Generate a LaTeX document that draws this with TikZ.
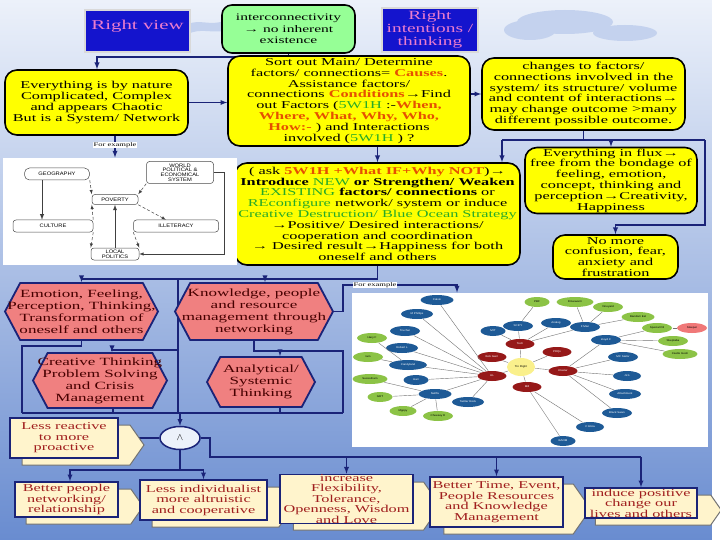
\documentclass[tikz,border=0pt]{standalone}
\usepackage{fontspec}
\setmainfont{Liberation Serif}[FakeStretch=1.55]
\setsansfont{Liberation Sans}[FakeStretch=1.15]
\usepackage{tikz}
\usetikzlibrary{shapes.geometric}
\usetikzlibrary{shapes.symbols}
\usetikzlibrary{backgrounds}
\usetikzlibrary{positioning}
\usetikzlibrary{calc}
\usetikzlibrary{arrows}
\definecolor{navy}{RGB}{26,35,120}
\definecolor{ylw}{RGB}{255,255,0}
\definecolor{salmon}{RGB}{240,128,128}
\definecolor{hexred}{RGB}{70,0,0}
\definecolor{cream}{RGB}{255,244,204}
\definecolor{cbrown}{RGB}{160,30,30}
\definecolor{tblue}{RGB}{20,20,205}
\definecolor{tpink}{RGB}{235,125,205}
\definecolor{lgreen}{RGB}{150,255,150}
\definecolor{hred}{RGB}{230,80,0}
\definecolor{hgreen}{RGB}{40,170,40}
\definecolor{nblue}{RGB}{30,90,150}
\definecolor{ngreen}{RGB}{140,195,70}
\definecolor{nred}{RGB}{150,25,25}
\definecolor{nyel}{RGB}{250,240,140}
\definecolor{npink}{RGB}{240,120,120}
\definecolor{bgtop}{RGB}{236,241,250}
\definecolor{bgmid}{RGB}{188,204,236}
\definecolor{bgbot}{RGB}{105,140,208}
\definecolor{cloud}{RGB}{196,210,238}
\newcommand{\kred}[1]{\textcolor{hred}{\textbf{#1}}}
\newcommand{\kgrn}[1]{\textcolor{hgreen}{#1}}
% cream box with its chevron shadow: name, x, y, width, height, text
\newcommand{\crbox}[6]{%
\node[cshad,minimum width=#4+14,minimum height=#5] at (#2+12,#3+7) {};
\node (#1) [cbox,minimum width=#4,minimum height=#5] at (#2,#3) {#6};}
\begin{document}
\begin{tikzpicture}[x=1pt,y=-1pt,line width=1pt,
ybox/.style={draw=black,line width=1.6pt,fill=ylw,rounded corners=12pt,align=center,inner sep=1pt,font=\fontsize{10.5}{10.8}\selectfont},
tbox/.style={draw=black!15,line width=1.2pt,fill=tblue,text=tpink,align=center,inner sep=0pt,font=\fontsize{13.5}{13}\selectfont},
grbox/.style={draw=black,line width=1.6pt,fill=lgreen,rounded corners=10pt,align=center,inner sep=1pt,font=\fontsize{10}{11.5}\selectfont},
hexa/.style={signal,signal to=east and west,signal pointer angle=124,draw=navy,line width=1.8pt,fill=salmon,text=hexred,align=center,inner xsep=-16pt,inner ysep=0pt,font=\fontsize{11}{12}\selectfont},
cbox/.style={rectangle,draw=navy,line width=1.6pt,fill=cream,text=cbrown,align=center,inner sep=0pt,font=\fontsize{10.5}{10.5}\selectfont},
cshad/.style={signal,signal to=east,signal pointer angle=110,draw=black!55,line width=1pt,fill=cream},
lk/.style={draw=navy,line width=1.3pt},
ar/.style={lk,-latex},
fe/.style={fill=white,inner sep=0.6pt,font=\fontsize{5.5}{6}\selectfont},
gnode/.style={draw=black!70,line width=0.5pt,rounded corners=3pt,align=center,inner sep=0.5pt,font=\sffamily\fontsize{5}{4.6}\selectfont},
gl/.style={draw=black!75,line width=0.5pt,-latex},
nb/.style={ellipse,fill=nblue,text=white,minimum height=10,inner sep=0pt,font=\sffamily\fontsize{2.6}{3}\selectfont},
ng/.style={nb,fill=ngreen,text=black},
nr/.style={nb,fill=nred,text=white},
nl/.style={draw=black!55,line width=0.4pt}]
\useasboundingbox (0,0) rectangle (720,540);
\begin{scope}[on background layer]
\shade[top color=bgtop,middle color=bgmid,bottom color=bgbot] (0,0) rectangle (712,540);
\fill[white] (712,0) rectangle (720,540);
\fill[cloud] (565,22) ellipse (48 and 12);
\fill[cloud] (625,33) ellipse (32 and 8);
\fill[cloud] (530,30) ellipse (26 and 10);
\fill[cloud] (188,24) .. controls (200,19) and (210,26) .. (224,21) -- (224,31) .. controls (210,33) and (200,28) .. (188,34) -- cycle;
\end{scope}

% top row
\node (rview) [tbox,minimum width=105,minimum height=42] at (137.5,31) {Right view\\ \mbox{}};
\node (inter) [grbox,minimum width=133,minimum height=48] at (288.5,29) {interconnectivity\\→ no inherent\\existence};
\node (rint) [tbox,minimum width=96,minimum height=44,font=\fontsize{12.5}{13}\selectfont] at (430,30) {Right\\intentions /\\thinking};

% yellow boxes
\node (nature) [ybox,minimum width=183,minimum height=65] at (96.5,102.5) {Everything is by nature\\Complicated, Complex\\and appears Chaotic\\But is a System/ Network};
\node (causes) [ybox,minimum width=242,minimum height=90] at (349,101) {Sort out Main/ Determine\\factors/ connections= \kred{Causes}.\\Assistance factors/\\connections \kred{Conditions}→Find\\out Factors (\kgrn{5W1H} :-\kred{When,}\\\kred{Where, What, Why, Who,}\\\kred{How:-} ) and Interactions\\involved (\kgrn{5W1H} ) ?};
\node (changes) [ybox,minimum width=203,minimum height=72] at (583.5,94) {changes to factors/\\connections involved in the\\system/ its structure/ volume\\and content of interactions→\\may change outcome >many\\different possible outcome.};
\node (ask) [ybox,minimum width=285,minimum height=102] at (377.5,214) {( ask \kred{5W1H +What IF+Why NOT})→\\\textbf{Introduce} \kgrn{NEW} \textbf{or Strengthen/ Weaken}\\\kgrn{EXISTING} \textbf{factors/ connections} or\\\kgrn{REconfigure} network/ system or induce\\\kgrn{Creative Destruction/ Blue Ocean Strategy}\\→Positive/ Desired interactions/\\cooperation and coordination\\→ Desired result→Happiness for both\\oneself and others};
\node (flux) [ybox,minimum width=172,minimum height=66] at (611,180.5) {Everything in flux→\\free from the bondage of\\feeling, emotion,\\concept, thinking and\\perception→Creativity,\\Happiness};
\node (calm) [ybox,minimum width=125,minimum height=44] at (615.5,257) {No more\\confusion, fear,\\anxiety and\\frustration};

% first example
\node (ex1) [fill=white,minimum width=234,minimum height=107,inner sep=0pt] at (120,211.5) {};
\node (geo) [gnode,minimum width=65,minimum height=12,rounded corners=5pt] at (57,174) {GEOGRAPHY};
\node (world) [gnode,minimum width=67,minimum height=22] at (180,172.5) {WORLD\\POLITICAL \&\\ECONOMICAL\\SYSTEM};
\node (pov) [gnode,minimum width=46,minimum height=10] at (115,199.5) {POVERTY};
\node (cult) [gnode,minimum width=80,minimum height=12] at (53,226) {CULTURE};
\node (illit) [gnode,minimum width=85,minimum height=12] at (176,226) {ILLETERACY};
\node (lpol) [gnode,minimum width=48,minimum height=12] at (115,254) {LOCAL\\POLITICS};
\draw[gl,line width=0.9pt] (geo.south -| 42,0) -- (cult.north -| 42,0);
\draw[gl,densely dashed] (geo.south east) -- (pov.north west);
\draw[gl,densely dashed] (world.south west) -- (pov.north east);
\draw[gl,densely dashed] (cult.north east) -- (pov.south west);
\draw[gl,densely dashed] (pov.south east) -- ($(illit.north)+(-10,0)$);
\draw[gl,densely dashed] (cult.south east) -- (lpol.north west);
\draw[gl,densely dashed] (illit.south west) -- (lpol.north east);
\draw[gl,line width=0.9pt] (lpol.north) -- (pov.south);
\draw[gl] (world.east) -- ++(10,0) |- (lpol.east);

% hexagons
\node (emo) [hexa,minimum width=153,minimum height=57] at (81.5,311.5) {Emotion, Feeling,\\Perception, Thinking,\\Transformation of\\oneself and others};
\node (know) [hexa,minimum width=158,minimum height=57] at (254,311.5) {Knowledge, people\\and resource\\management through\\networking};
\node (crea) [hexa,minimum width=134,minimum height=55] at (100,380.5) {Creative Thinking\\Problem Solving\\and Crisis\\Management};
\node (anal) [hexa,minimum width=108,minimum height=50] at (261,382) {Analytical/\\Systemic\\Thinking};

% second example
\node (net) [fill=white,minimum width=356,minimum height=154,inner sep=0pt] at (530,370) {};
\foreach \n/\x/\y/\w/\t in {calvin/437/300/33/Calvin,mphil/417/314/32/M Phillips,truch/405/331/30/Truchar,mit/493/331/25/MIT,scify/518/326/30/SCIFY,analog/556/323/30/Analog,fman/585/327/30/F Man,lloyd/606/340/30/Lloyd C,robl/402/348/32/Robert L,candy/408/365/38/Candyland,harr/416/380/25/Harr,netfl/435/394/33/Netflix,twit/468/402/32/Twitter Rock,mcs/623/357/30/MC Sailor,jls/627/376/28/JLS,attach/625/394/32/Attachment,bswan/617/413/30/Black Swan,celiza/590/427/28/C Eliza,baom/563/441/25/BAOM}
\node[nb,minimum width=\w] (\n) at (\x,\y) {\t};
\foreach \n/\x/\y/\w/\t in {pbf/537/302/25/PBF,drive/575/302/37/Driveworm,vine/608/307/30/Vineyard,reel/638/317/33/Random Eel,soil/657/328/30/Special Oil,skep/673/341/30/Skeptaba,castle/680/354/35/Castle Gosh,haryf/372/338/30/Hary F,iam/368/357/30/Iam,suss/370/379/35/Sussorham,grt/380/397/25/GRT,mppy/403/411/27/Mpppy,chees/438/416/30/Cheesey D}
\node[ng,minimum width=\w] (\n) at (\x,\y) {\t};
\node[ng,fill=npink,minimum width=30] (sleep) at (692,328) {Sleeper};
\foreach \n/\x/\y/\t in {tech/520/344/Tech,bobg/492/357/Bob Gerri,pdq/557/352/PDQs,ul/492/376/UL,klost/563/371/Kloster,mill/527/387/Mill}
\node[nr,minimum width=29] (\n) at (\x,\y) {\t};
\node[nb,fill=nyel,text=black,minimum width=28,minimum height=18] (tin) at (521,367) {Tin Flight};
\foreach \a/\b in {ul/calvin,ul/mphil,ul/truch,ul/robl,ul/candy,ul/harr,ul/netfl,ul/twit,ul/tin,candy/haryf,candy/iam,netfl/suss,netfl/grt,netfl/mppy,netfl/chees,tech/mit,tech/scify,tech/analog,tech/fman,tech/tin,scify/pbf,fman/drive,fman/vine,fman/reel,klost/lloyd,klost/mcs,klost/jls,klost/attach,klost/bswan,klost/tin,lloyd/soil,lloyd/skep,lloyd/castle,soil/sleep,mill/celiza,mill/baom,mill/tin,tin/pdq,tin/bobg}
\draw[nl] (\a) -- (\b);

% bottom part
\node (wedge) [ellipse,draw=navy,line width=1.5pt,fill=bgtop,minimum width=40,minimum height=23,inner sep=0pt] at (180,438) {$\wedge$};
\crbox{reactive}{64}{438}{108}{40}{Less reactive\\to more\\proactive}
\crbox{better}{66.5}{499.5}{103}{35}{Better people\\networking/\\relationship}
\crbox{altru}{203.5}{500}{127}{40}{Less individualist\\more altruistic\\and cooperative}
\crbox{flex}{346.5}{499}{133}{48}{increase\\Flexibility,\\Tolerance,\\Openness, Wisdom\\and Love}
\crbox{timebox}{496.5}{502}{133}{50}{Better Time, Event,\\People Resources\\and Knowledge\\Management}
\crbox{induce}{641}{503}{112}{30}{induce positive\\change our\\lives and others}

% connectors
\begin{scope}[on background layer]
\coordinate (jtop) at (97,57);
\draw[ar] (inter.south) |- (jtop) -- (nature.north -| jtop);
\draw[ar] (nature.east) -- (nature.east -| causes.west);
\draw[ar] (causes.east |- changes.west) -- (changes.west);
\coordinate (chl) at (502,140);
\coordinate (chr) at (705,140);
\coordinate (cm) at (705,225);
\draw[lk] (changes.south) -- (changes.south |- chl);
\draw[lk] (chl) -- (chr);
\draw[ar] (chl) -- (chl |- ask.north);
\draw[ar] (flux.north |- chl) -- (flux.north);
\draw[ar] (chr) -- (cm) -| (calm.north);
\draw[ar] (ask.north |- causes.south) -- (ask.north);
\draw[ar] ($(nature.south)+(18.5,0)$) -- ($(ex1.north)+(-5,0)$);
% to the hexagons
\coordinate (jh) at (377.5,279);
\coordinate (jb) at (178,279);
\coordinate (ml) at (22,413);
\coordinate (mr) at (343,413);
\coordinate (fx) at (343,285);
\draw[lk] (ask.south) -- (jh);
\draw[ar] (jh) -| (emo.north);
\draw[ar] (jh) -| ($(know.north)+(11,0)$);
\draw[lk] (jb) -- (jb |- ml);
\draw[ar] (jb |- 0,350) -| ($(crea.north)+(12,0)$);
\draw[lk] (emo.south) -- ++(0,5) -| (ml);
\draw[lk] (know.south) -- ++(0,10) coordinate (hb) -| (mr);
\draw[ar] (hb) -| ($(anal.north)+(19,0)$);
\draw[lk] (crea.south -| 113,0) -- (ml -| 113,0);
\draw[lk] (anal.south -| 280,0) -- (ml -| 280,0);
\draw[lk] (ml) -- (mr);
\draw[ar] (know.east) -| (fx) -| ($(net.north)+(-73,0)$);
% below the merge
\coordinate (jw) at (210,457);
\coordinate (jv) at (180,470);
\draw[ar] (ml -| wedge.north) -- (wedge.north);
\draw[ar] (wedge.west) -- (reactive.east);
\draw[lk] (wedge.east) -| (jw) -- (jw -| induce.north);
\draw[ar] (jw -| flex.north) -- (flex.north);
\draw[ar] (jw -| timebox.north) -- (timebox.north);
\draw[ar] (jw -| induce.north) -- (induce.north);
\draw[lk] (wedge.south) -- (jv);
\draw[ar] (jv) -| ($(better.north)+(3.5,0)$);
\draw[ar] (jv) -| (altru.north);
\end{scope}
\node (fe1) [fe] at (115,145) {For example};
\node (fe2) [fe] at (375,285) {For example};
\end{tikzpicture}
\end{document}
